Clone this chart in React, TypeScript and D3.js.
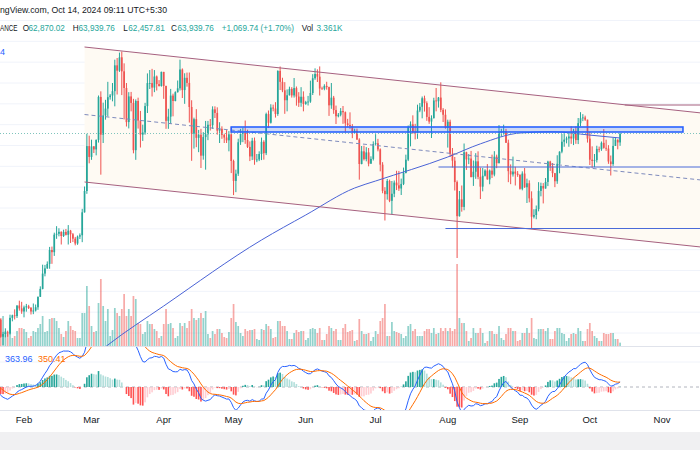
import React from 'react';
import * as d3 from 'd3';

const DAY = 86400000;

// closes Nov 1 2023 - Jan 19 2024, only used so the MACD EMAs have settled
const warmupCloses = [
  35400, 34940, 34730, 35080, 35050, 35040, 35420, 35620, 36700, 37320, 37130, 37070, 36490, 35550, 37870,
  36160, 36600, 36570, 37360, 37460, 35760, 37420, 37290, 37720, 37780, 37450, 37240, 37830, 37850, 37720,
  38690, 39470, 39980, 41990, 44080, 43770, 43290, 44170, 43720, 43790, 41240, 41450, 42890, 43020, 41940, 42260,
  41370, 42660, 42260, 43660, 43860, 43980, 43720, 43010, 43580, 42520, 43440, 42580, 42070, 42140, 42280,
  44180, 44950, 42850, 44180, 44160, 43970, 43930, 46970, 46120, 46660, 46340, 42780, 42840, 41730, 42510,
  43150, 42740, 41260, 41620,
];

// daily candles from Jan 20 2024 to Oct 14 2024, open = previous close
const firstDay = Date.UTC(2024, 0, 20);
const closes = [
  41660, 41580, 39550, 39880, 40080, 39940, 41820, 42120, 42030, 43300, 42950, 42580,
  43080, 43200, 43010, 42580, 42700, 43090, 44340, 45290, 47130, 47750, 48290, 49960, 49700, 51800, 51910, 52140, 51640, 52130, 51780, 52280, 51850, 51320, 50740, 51570, 51730, 54480, 57040, 62430, 61130,
  62390, 62030, 63170, 68330, 63800, 66110, 66930, 68300, 68500, 69020, 72120, 71480, 73080, 71400, 69400, 65310, 68390, 67610, 61940, 67840, 65500, 63800, 64060, 67230, 69990, 69990, 69450, 70780, 69870, 69640, 71330,
  69650, 65460, 65960, 68490, 67840, 68900, 69360, 71620, 69150, 70620, 70010, 67120, 63920, 65660, 63420, 63790, 61280, 63510, 63840, 64990, 64940, 66840, 66410, 64280, 64500, 63770, 63460, 63120, 63840, 60640,
  58250, 59120, 62890, 63890, 64030, 63160, 62330, 61190, 63070, 60790, 60820, 61480, 62940, 61580, 66270, 65230, 67050, 66940, 66280, 71450, 70140, 69120, 67930, 68530, 69290, 68510, 69390, 68370, 67630, 68350, 67490,
  67710, 67770, 68800, 70570, 71080, 70760, 69340, 69310, 69650, 69510, 67320, 68240, 66750, 66010, 66190, 66640, 66490, 65160, 64960, 64830, 64100, 64260, 63210, 60280, 61800, 60860, 61670, 60320, 60890, 62680,
  62770, 62030, 60200, 57060, 56660, 58240, 55860, 56710, 58050, 57720, 57340, 57890, 59200, 60800, 64720, 65040, 64090, 63970, 66700, 67150, 68170, 67580, 65930, 65370, 65780, 67900, 67810, 68250, 66780, 66190, 64620,
  65350, 61500, 60680, 58110, 54020, 56040, 55130, 61690, 60830, 60930, 58710, 59350, 60600, 58740, 57560, 58870, 59490, 58430, 59490, 59010, 61160, 60380, 64100, 64180, 64220, 62830, 59420, 59030, 59370, 59120, 58970,
  57300, 59130, 57490, 57970, 56160, 53950, 54160, 54870, 57050, 57640, 57340, 58130, 60570, 60000, 59180, 58210, 60310, 61760, 62950, 63200, 63350, 63580, 63340, 64260, 63150, 65180, 65770, 65860, 65600, 63330,
  60800, 60650, 60750, 62090, 62060, 62820, 62220, 62130, 60580, 60270, 62450, 63190, 62870, 63939.76,
];
const highs = [
  41850, 41880, 41690, 40130, 40560, 40280, 42200, 42200, 42840, 43320, 43880, 43740,
  43290, 43490, 43380, 43120, 43540, 43420, 44380, 45600, 48200, 48170, 48590, 50330, 50370, 52040, 52820, 52570, 52200, 52400, 52480, 52950, 52370, 52000, 51530, 51700, 51950, 54900, 57580, 63910, 63680,
  63200, 62430, 63230, 68500, 69000, 67640, 67980, 70140, 68680, 70000, 72800, 73000, 73650, 73777, 72360, 70000, 68900, 68930, 68100, 68030, 68240, 66650, 65000, 67620, 71150, 71560, 71700, 71550, 70900, 70350, 71370,
  71340, 69670, 66910, 69290, 68720, 69000, 70300, 72800, 71750, 71170, 71250, 71260, 67930, 65840, 66860, 64370, 64500, 64100, 65450, 65450, 65680, 67200, 67200, 67080, 65290, 64800, 63920, 64350, 64230, 64730,
  60800, 59600, 63320, 64500, 64650, 65500, 64400, 62990, 63420, 63460, 61480, 61800, 63450, 63130, 66440, 66700, 67450, 67400, 67700, 71520, 71980, 70630, 70100, 69230, 69560, 69500, 70600, 69580, 68900, 69500, 69000,
  67860, 68450, 70280, 71060, 71760, 71640, 71990, 69560, 69850, 70150, 69560, 70000, 68450, 67290, 66400, 66990, 67240, 66580, 65700, 66480, 65070, 64520, 64530, 63370, 62440, 62480, 62300, 62200, 61200, 63000,
  63860, 63300, 62150, 60500, 57500, 58480, 58400, 58240, 58300, 59470, 59450, 58530, 59850, 61400, 64900, 65390, 66120, 65100, 67400, 67600, 68380, 68480, 67800, 67100, 66120, 68230, 69400, 68320, 70080, 66990, 66830,
  65600, 65600, 62200, 61120, 58300, 57040, 57700, 62740, 61750, 61470, 61850, 60700, 61580, 61800, 59850, 59800, 59650, 60270, 59620, 61400, 61820, 61400, 64950, 64500, 65000, 64500, 63200, 60230, 61170, 59950, 59430,
  59060, 59400, 59800, 58520, 58320, 57000, 54850, 55300, 58100, 58040, 57990, 58600, 60670, 60670, 60400, 59210, 61330, 61800, 63880, 64130, 63570, 64000, 64800, 64500, 64800, 65800, 66500, 66260, 66080, 65600,
  64130, 62400, 61480, 62470, 62370, 62980, 64480, 63200, 62540, 61300, 63400, 63480, 63250, 63939.76,
];
const lows = [
  41450, 41500, 39430, 38555, 39480, 39550, 39820, 41400, 41620, 41800, 42680, 42300,
  41880, 42560, 42880, 42220, 42260, 42580, 42780, 44330, 45240, 46800, 47700, 47710, 48300, 49250, 51300, 51600, 50620, 51520, 51700, 50620, 50800, 50920, 50520, 50580, 51280, 50900, 54450, 56700, 60360,
  60780, 61600, 61320, 62850, 59000, 62800, 65600, 66000, 68000, 67800, 67200, 68620, 71330, 68550, 65630, 64780, 64550, 66600, 61560, 60780, 64530, 62260, 63050, 63800, 66400, 69280, 68380, 68900, 69100, 69570, 69560,
  68100, 64500, 64500, 65100, 66000, 67800, 68850, 69100, 68200, 67500, 69560, 65250, 60660, 62130, 62300, 61700, 59800, 60800, 59600, 63140, 64300, 64500, 65800, 63800, 62800, 63300, 62800, 62800, 61800, 59190,
  56550, 56900, 58850, 62570, 62900, 62700, 62200, 60630, 60750, 60190, 60500, 60630, 60750, 60800, 61350, 64600, 65130, 66600, 65850, 66060, 69160, 68900, 66300, 66600, 68500, 68250, 68250, 67280, 67130, 67150, 66600,
  67380, 67300, 67620, 68560, 70380, 70120, 68500, 69200, 69130, 69200, 66050, 66900, 66300, 65080, 65880, 66000, 65100, 64060, 64700, 64500, 63380, 63950, 63180, 58400, 60240, 60700, 60600, 60000, 60300, 60700,
  62500, 61800, 59400, 56770, 53500, 56000, 55700, 54260, 56300, 57150, 57050, 56560, 57750, 59150, 60630, 62400, 63900, 63230, 63300, 66500, 65760, 66570, 65460, 65100, 63400, 65740, 66600, 67050, 66500, 65320, 64520,
  62250, 61130, 59850, 57100, 49000, 53970, 54560, 54730, 59570, 60260, 58680, 57650, 58500, 58450, 56080, 57000, 58780, 58400, 57850, 58600, 58800, 59780, 60350, 63600, 63800, 62800, 58100, 57860, 58770, 57700, 58740,
  57200, 57120, 57410, 55600, 55680, 52550, 53750, 53650, 54600, 56400, 55550, 57320, 57630, 59450, 58700, 57500, 57900, 59170, 61570, 62350, 62760, 62350, 62700, 62550, 62700, 62670, 64800, 65420, 65450, 62850,
  60160, 59830, 59900, 60460, 61680, 61860, 62120, 61850, 60300, 58900, 60050, 62450, 62040, 62457.81,
];
// volume, K BTC
const volumes = [
  10, 10, 28, 30, 15, 12, 28, 8, 10, 15, 18, 18,
  17, 14, 8, 10, 15, 14, 18, 22, 30, 14, 15, 27, 28, 28, 25, 18, 12, 9, 15, 25, 20, 16, 15, 8, 8, 33, 33, 60, 40,
  20, 14, 15, 43, 67, 40, 25, 37, 10, 16, 38, 33, 30, 37, 52, 30, 37, 30, 50, 47, 23, 22, 12, 14, 25, 22, 22, 17, 15, 8, 10,
  22, 37, 22, 23, 18, 8, 10, 23, 20, 23, 18, 25, 37, 28, 26, 28, 33, 28, 35, 12, 8, 15, 12, 17, 17, 13, 9, 8, 14, 28,
  42, 24, 20, 13, 10, 17, 15, 16, 16, 17, 7, 6, 17, 16, 22, 20, 17, 8, 9, 25, 25, 20, 20, 15, 7, 7, 13, 16, 14, 15, 15,
  6, 8, 17, 18, 17, 13, 18, 6, 6, 12, 20, 18, 15, 17, 6, 6, 18, 22, 14, 15, 16, 5, 6, 27, 15, 12, 12, 13, 5, 9,
  15, 12, 25, 28, 42, 10, 10, 24, 15, 14, 13, 12, 8, 10, 20, 22, 15, 17, 10, 10, 10, 15, 17, 17, 13, 18, 12, 13, 18, 15, 18,
  15, 18, 15, 17, 82, 28, 23, 23, 15, 5, 8, 18, 13, 13, 18, 13, 3, 5, 15, 15, 12, 12, 20, 8, 6, 12, 18, 18, 15, 15, 5,
  6, 13, 13, 18, 13, 28, 8, 7, 17, 17, 17, 15, 18, 7, 7, 15, 18, 18, 13, 12, 5, 8, 12, 13, 12, 18, 15, 5, 5, 17,
  23, 15, 10, 8, 5, 5, 13, 12, 12, 13, 13, 7, 7, 3.361,
];

// 200-day moving average
const ma200: [string, number][] = [
  ['2024-03-01', 37000], ['2024-03-08', 38560], ['2024-04-01', 43240], ['2024-05-13', 51160],
  ['2024-06-01', 54160], ['2024-06-22', 57400], ['2024-07-01', 58240], ['2024-08-01', 61120],
  ['2024-08-15', 62700], ['2024-09-01', 64000], ['2024-09-15', 64150], ['2024-10-01', 63750], ['2024-10-14', 63400],
];

// drawings (date, price)
const channelTop: [string, number][] = [['2024-02-27', 74320], ['2024-11-20', 66340]];
const channelBottom: [string, number][] = [['2024-02-27', 58120], ['2024-11-20', 50250]];
const topLevel: [string, number][] = [['2024-10-16', 67360], ['2024-11-20', 67360]];
const zone = { from: '2024-04-30', to: '2024-11-10', top: 64720, bottom: 64120 };
const levels: [string, number][] = [['2024-07-28', 59920], ['2024-07-31', 52540]];
const lastPrice = 63939.76;

const monthTicks = ['2024-02-01', '2024-03-01', '2024-04-01', '2024-05-01', '2024-06-01', '2024-07-01',
  '2024-08-01', '2024-09-01', '2024-10-01', '2024-11-01'];

const UP = '#26a69a';
const DOWN = '#ef5350';
const FONT = "'Liberation Sans', Arial, sans-serif";

const dt = (s: string) => new Date(s + 'T00:00:00Z');

function ema(src: number[], n: number) {
  const k = 2 / (n + 1);
  let e = src[0];
  return src.map((v, i) => (e = i === 0 ? v : v * k + e * (1 - k)));
}

export default function App() {
  const x = d3.scaleUtc().domain([dt('2024-02-01'), dt('2024-11-01')]).range([24, 662]);
  const y = d3.scaleLinear().domain([50000, 70000]).range([83 + 20000 / 120, 83]);
  const yVol = d3.scaleLinear().domain([0, 82]).range([346, 264]);
  // MACD pane, zero at 387
  const yMacd = d3.scaleLinear().domain([-2800, 2800]).range([427, 347]);

  const candles = closes.map((c, i) => ({
    date: new Date(firstDay + i * DAY),
    o: i === 0 ? warmupCloses[warmupCloses.length - 1] : closes[i - 1],
    h: highs[i], l: lows[i], c, v: volumes[i],
  }));

  const all = warmupCloses.concat(closes);
  const fast = ema(all, 12);
  const slow = ema(all, 26);
  const macd = all.map((_, i) => fast[i] - slow[i]);
  const signal = ema(macd, 9);
  const warmStart = Date.UTC(2023, 10, 1);
  const rows = all.map((_, i) => {
    const h = macd[i] - signal[i];
    const prev = i > 0 ? macd[i - 1] - signal[i - 1] : h;
    const color = h >= 0 ? (prev < h ? '#26a69a' : '#b2dfdb') : (prev < h ? '#ffcdd2' : '#ff5252');
    return { date: new Date(warmStart + i * DAY), m: macd[i], s: signal[i], h, color };
  }).slice(warmupCloses.length - 3);

  const seg = d3.line<[string, number]>().x(d => x(dt(d[0]))).y(d => y(d[1]));
  const maLine = d3.line<[string, number]>().x(d => x(dt(d[0]))).y(d => y(d[1])).curve(d3.curveMonotoneX);
  const macdLine = d3.line<typeof rows[0]>().x(d => x(d.date)).y(d => yMacd(d.m));
  const sigLine = d3.line<typeof rows[0]>().x(d => x(d.date)).y(d => yMacd(d.s));

  const mid: [string, number][] = channelTop.map((p, i) => [p[0], (p[1] + channelBottom[i][1]) / 2]);
  const fillPts = [...channelTop, ...channelBottom.slice().reverse()]
    .map(d => `${x(dt(d[0]))},${y(d[1])}`).join(' ');

  const grid = d3.range(37500, 80001, 2500).map(p => y(p)).filter(v => v > 15 && v < 346);
  const bw = 1.7;

  return (
    <div style={{ position: 'absolute', left: 0, top: 0 }}>
      <svg width={700} height={450} style={{ display: 'block', fontFamily: FONT }}>
        <defs>
          <clipPath id="main"><rect x={0} y={16} width={700} height={330} /></clipPath>
          <clipPath id="osc"><rect x={0} y={347} width={700} height={63} /></clipPath>
        </defs>
        <rect width={700} height={450} fill="#fff" />

        {grid.map((g, i) => (
          <line key={i} x1={0} x2={700} y1={g} y2={g} stroke="#f0f3fa" />
        ))}
        <line x1={0} x2={700} y1={362} y2={362} stroke="#f0f3fa" />

        <g clipPath="url(#main)">
          <polygon points={fillPts} fill="#fefaf3" />

          {candles.map((d, i) => (
            <rect key={'v' + i} x={x(d.date) - bw / 2} width={bw} y={yVol(d.v)} height={346 - yVol(d.v)}
              fill={d.c >= d.o ? UP : DOWN} opacity={0.5} />
          ))}

          {candles.map((d, i) => {
            const col = d.c >= d.o ? UP : DOWN;
            const cx = x(d.date);
            const top = y(Math.max(d.o, d.c));
            const bot = y(Math.min(d.o, d.c));
            return (
              <g key={'c' + i}>
                <line x1={cx} x2={cx} y1={y(d.h)} y2={y(d.l)} stroke={col} strokeWidth={1} />
                <rect x={cx - bw / 2} width={bw} y={top} height={Math.max(0.8, bot - top)} fill={col} />
              </g>
            );
          })}

          <path d={maLine(ma200) || ''} fill="none" stroke="#4a63d6" strokeWidth={1} />

          <path d={seg(channelTop) || ''} stroke="#a6607f" strokeWidth={1} fill="none" />
          <path d={seg(channelBottom) || ''} stroke="#a6607f" strokeWidth={1} fill="none" />
          <path d={seg(topLevel) || ''} stroke="#a6607f" strokeWidth={1} fill="none" />
          <path d={seg(mid) || ''} stroke="#7e8bbd" strokeWidth={1} strokeDasharray="4 3" fill="none" />

          {levels.map((l, i) => (
            <line key={'l' + i} x1={x(dt(l[0]))} x2={700} y1={y(l[1])} y2={y(l[1])} stroke="#4a6ad8" strokeWidth={1} />
          ))}

          <line x1={0} x2={700} y1={y(lastPrice)} y2={y(lastPrice)} stroke="#7fc4bc" strokeDasharray="1 2" />

          <rect x={x(dt(zone.from))} width={x(dt(zone.to)) - x(dt(zone.from))}
            y={y(zone.top)} height={y(zone.bottom) - y(zone.top)}
            fill="rgba(41,98,255,0.22)" stroke="#2962ff" strokeWidth={1.6} />
        </g>

        <line x1={0} x2={700} y1={346.5} y2={346.5} stroke="#e0e3eb" />

        <g clipPath="url(#osc)">
          <line x1={0} x2={700} y1={yMacd(0)} y2={yMacd(0)} stroke="#b2b5be" strokeDasharray="3 3" />
          {rows.map((d, i) => (
            <rect key={'h' + i} x={x(d.date) - 0.8} width={1.6}
              y={Math.min(yMacd(0), yMacd(d.h))} height={Math.abs(yMacd(d.h) - yMacd(0))} fill={d.color} />
          ))}
          <path d={macdLine(rows) || ''} fill="none" stroke="#2962ff" strokeWidth={1} />
          <path d={sigLine(rows) || ''} fill="none" stroke="#ff6d00" strokeWidth={1} />
        </g>
        <line x1={0} x2={700} y1={410.5} y2={410.5} stroke="#e0e3eb" />

        {monthTicks.map(m => (
          <text key={m} x={x(dt(m))} y={423} textAnchor="middle" fontSize={9.5} fill="#131722">
            {d3.utcFormat('%b')(dt(m))}
          </text>
        ))}

        <rect x={0} y={432} width={700} height={18} fill="#f0f0f2" />

        <text x={0} y={12.7} fontSize={8.7} fill="#131722">ngView.com, Oct 14, 2024 09:11 UTC+5:30</text>
        <g fontSize={8.2}>
          <text x={0} y={30.7} fill="#131722" textLength={17.5} lengthAdjust="spacingAndGlyphs">ANCE</text>
          <text x={22.7} y={30.7} fill="#131722">O</text>
          <text x={28.5} y={30.7} fill={UP}>62,870.02</text>
          <text x={72.7} y={30.7} fill="#131722">H</text>
          <text x={78.5} y={30.7} fill={UP}>63,939.76</text>
          <text x={123.3} y={30.7} fill="#131722">L</text>
          <text x={128.3} y={30.7} fill={UP}>62,457.81</text>
          <text x={171} y={30.7} fill="#131722">C</text>
          <text x={177.5} y={30.7} fill={UP}>63,939.76</text>
          <text x={221.7} y={30.7} fill={UP}>+1,069.74 (+1.70%)</text>
          <text x={301.7} y={30.7} fill="#131722">Vol</text>
          <text x={316.5} y={30.7} fill={UP}>3.361K</text>
        </g>
        <text x={0} y={55} fontSize={9} fill="#2962ff">4</text>
        <text x={5} y={361.5} fontSize={9} fill="#2962ff">363.96</text>
        <text x={38} y={361.5} fontSize={9} fill="#ff6d00">350.41</text>
      </svg>
    </div>
  );
}
